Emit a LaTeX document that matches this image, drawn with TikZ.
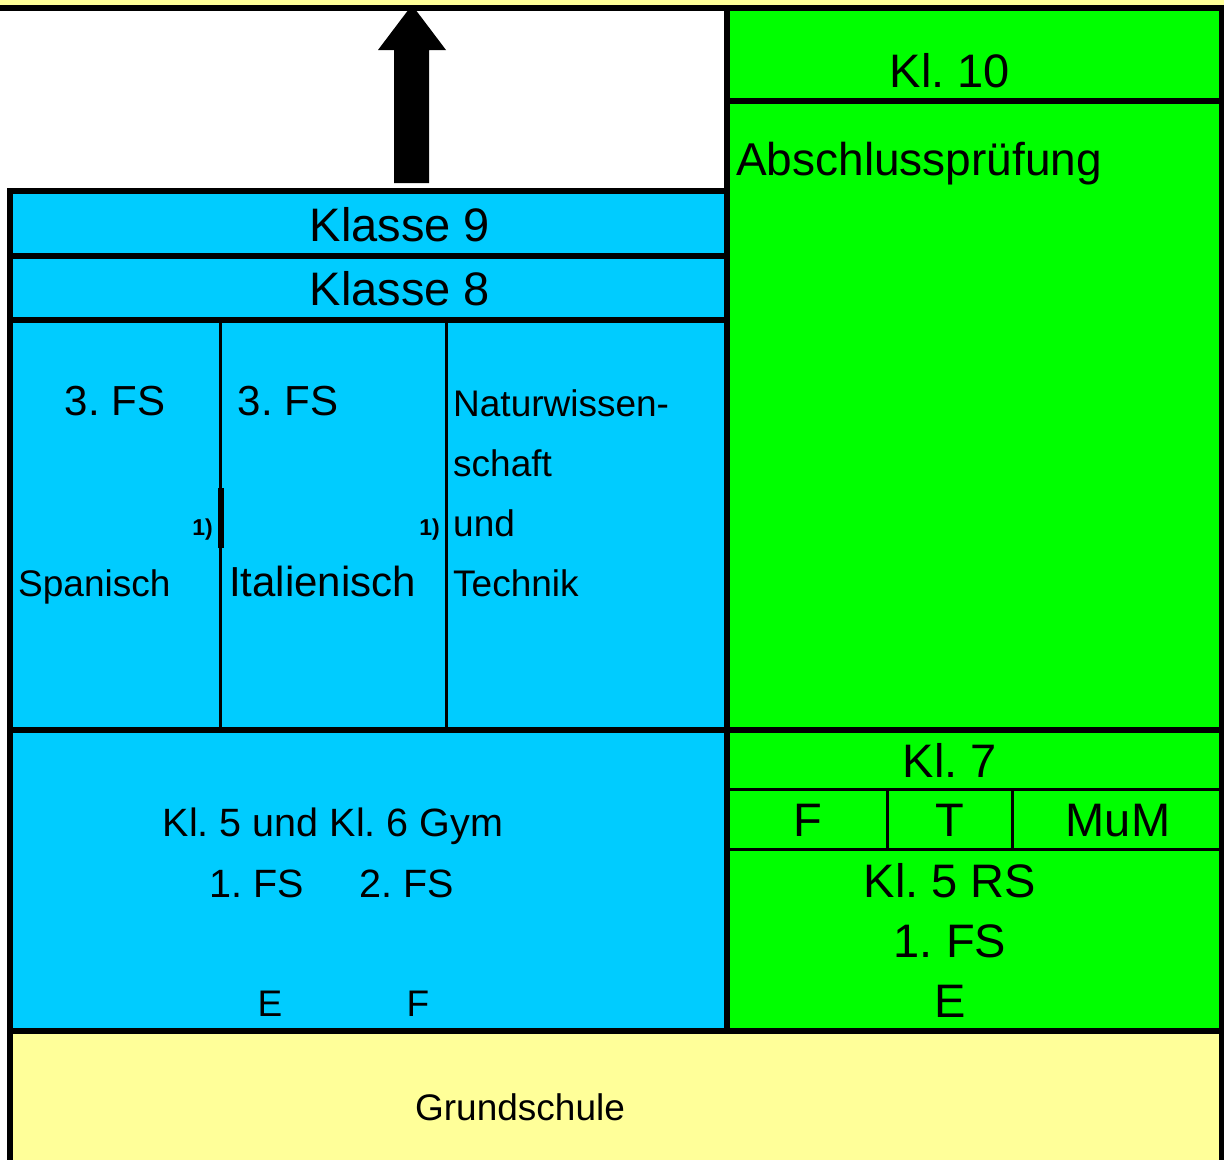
\documentclass[tikz,border=0pt]{standalone}
\usepackage{fontspec}
\setmainfont{Liberation Sans}
\frenchspacing
\definecolor{gsyellow}{HTML}{FFFF99}
\definecolor{gymblue}{HTML}{00CCFF}
\definecolor{rsgreen}{HTML}{00FF00}
\tikzset{
  thickline/.style={line width=6pt},
  thinline/.style={line width=3pt},
  big/.style={font=\frenchspacing\fontsize{47}{50}\selectfont, inner sep=0pt},
  fstext/.style={font=\frenchspacing\fontsize{42}{46}\selectfont, inner sep=0pt},
  mid/.style={font=\frenchspacing\fontsize{37}{42}\selectfont, inner sep=0pt},
  gymtext/.style={font=\frenchspacing\fontsize{39.5}{44}\selectfont, inner sep=0pt},
  note/.style={font=\bfseries\fontsize{23}{26}\selectfont, inner sep=0pt},
}
\begin{document}
\begin{tikzpicture}[x=1pt,y=-1pt]
\useasboundingbox (0,0) rectangle (1224,1160);
% fills
\fill[white] (0,0) rectangle (1224,1160);
\fill[gsyellow] (0,0) rectangle (1224,5);
\fill[rsgreen] (727,8) rectangle (1221,1031);
\fill[gymblue] (10,191) rectangle (727,1031);
\fill[gsyellow] (10,1031) rectangle (1221,1160);
% frame lines
\fill (0,5) rectangle (1224,11);
\fill (7,188) rectangle (13,1160);
\fill (1219,5) rectangle (1224,1160);
% Gymnasium side
\draw[thickline] (7,191) -- (727,191);
\draw[thickline] (10,256) -- (727,256);
\draw[thickline] (10,320) -- (727,320);
\draw[thinline] (220.5,320) -- (220.5,730);
\fill (218,488) rectangle (224,548);
\draw[thinline] (446,320) -- (446,730);
% Realschule side
\draw[thickline] (727,8) -- (727,1031);
\draw[thickline] (727,101) -- (1221,101);
\draw[thickline] (10,730) -- (1221,730);
\draw[thinline] (727,789.5) -- (1221,789.5);
\draw[thinline] (727,849.5) -- (1221,849.5);
\draw[thinline] (887,789.5) -- (887,849.5);
\draw[thinline] (1012.5,789.5) -- (1012.5,849.5);
\draw[thickline] (10,1031) -- (1221,1031);
% arrow
\fill (394,183) -- (394,50) -- (378,50) -- (412,5) -- (446,50) -- (429,50) -- (429,183) -- cycle;
% texts
\node[big, anchor=base] (kl10) at (950,87) {Kl. 10};
\node[font=\fontsize{46}{50}\selectfont, inner sep=0pt, anchor=base west] (abschl) at (736,175) {Abschlussprüfung};
\node[big, anchor=base] (k9) at (400,241) {Klasse 9};
\node[big, anchor=base] (k8) at (400,305) {Klasse 8};
\node[fstext, anchor=base] (fs3a) at (115,415) {3. FS};
\node[fstext, anchor=base] (fs3b) at (288,415) {3. FS};
\node[mid, anchor=base west] (nw1) at (453,416) {Naturwissen-};
\node[mid, anchor=base west] (nw2) at (453,476) {schaft};
\node[mid, anchor=base west] (nw3) at (453,536) {und};
\node[mid, anchor=base west] (nw4) at (453,596) {Technik};
\node[note, anchor=base east] (n1) at (213,535) {1)};
\node[note, anchor=base east] (n2) at (440,535) {1)};
\node[mid, anchor=base west] (span) at (18,596) {Spanisch};
\node[fstext, anchor=base west] (ital) at (229,596) {Italienisch};
\node[gymtext, anchor=base] (gym) at (333,836) {Kl. 5 und Kl. 6 Gym};
\node[gymtext, anchor=base] (fs1) at (257,897) {1. FS};
\node[gymtext, anchor=base] (fs2) at (407,897) {2. FS};
\node[mid, anchor=base] (e1) at (270,1016) {E};
\node[mid, anchor=base] (f1) at (418,1016) {F};
\node[big, anchor=base] (kl7) at (950,777) {Kl. 7};
\node[big, anchor=base] (wf) at (808,836) {F};
\node[big, anchor=base] (wt) at (950,836) {T};
\node[big, anchor=base] (wm) at (1118,836) {MuM};
\node[big, anchor=base] (kl5) at (950,897) {Kl. 5 RS};
\node[big, anchor=base] (rsfs) at (950,957) {1. FS};
\node[big, anchor=base] (rse) at (950,1017) {E};
\node[mid, anchor=base] (gs) at (520,1120) {Grundschule};
\end{tikzpicture}
\end{document}
